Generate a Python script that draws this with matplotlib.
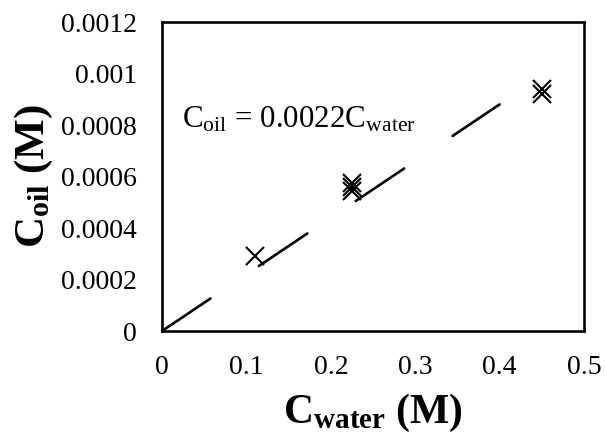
import matplotlib
matplotlib.use("Agg")
import matplotlib.pyplot as plt
import numpy as np

plt.rcParams['font.family'] = ['Liberation Serif', 'DejaVu Serif']
plt.rcParams['mathtext.fontset'] = 'custom'
plt.rcParams['mathtext.rm'] = 'Liberation Serif'
plt.rcParams['mathtext.it'] = 'Liberation Serif:italic'
plt.rcParams['mathtext.bf'] = 'Liberation Serif:bold'
plt.rcParams['lines.scale_dashes'] = False

# measured points (several repeats per concentration)
c_water = [0.11, 0.225, 0.225, 0.225, 0.45, 0.45]
c_oil = [0.00029, 0.000545, 0.00056, 0.000575, 0.00092, 0.00094]

# fitted line
slope = 0.0022
fit_x = [0, 0.4]

xticks = [0, 0.1, 0.2, 0.3, 0.4, 0.5]
xtick_labels = ['0', '0.1', '0.2', '0.3', '0.4', '0.5']
yticks = [0, 0.0002, 0.0004, 0.0006, 0.0008, 0.001, 0.0012]
ytick_labels = ['0', '0.0002', '0.0004', '0.0006', '0.0008', '0.001', '0.0012']

fig = plt.figure(figsize=(6.05, 4.36), dpi=100)
ax = fig.add_axes([0.2678, 0.2408, 0.6975, 0.7087])

ax.plot(c_water, c_oil, 'x', color='black', markersize=13.5, markeredgewidth=1.5)
fx = np.array(fit_x)
ax.plot(fx, slope * fx, color='black', linewidth=1.9, dashes=(42, 42),
        dash_capstyle='round')

ax.text(0.024, 0.00079, r'C$_{\mathrm{oil}}$ = 0.0022C$_{\mathrm{water}}$',
        fontsize=22.3, va='baseline', ha='left')

ax.set_xlim(0, 0.5)
ax.set_ylim(0, 0.0012)
ax.set_xticks(xticks)
ax.set_xticklabels(xtick_labels)
ax.set_yticks(yticks)
ax.set_yticklabels(ytick_labels)
ax.tick_params(length=0, labelsize=20)
ax.tick_params(axis='y', pad=18)
ax.tick_params(axis='x', pad=17)

for s in ax.spines.values():
    s.set_linewidth(1.9)

ax.set_xlabel(r'$\mathbf{C_{water}\ (M)}$', fontsize=30, labelpad=9)
ax.set_ylabel(r'$\mathbf{C_{oil}\ (M)}$', fontsize=31, labelpad=4)

fig.savefig('out.png', dpi=100)
